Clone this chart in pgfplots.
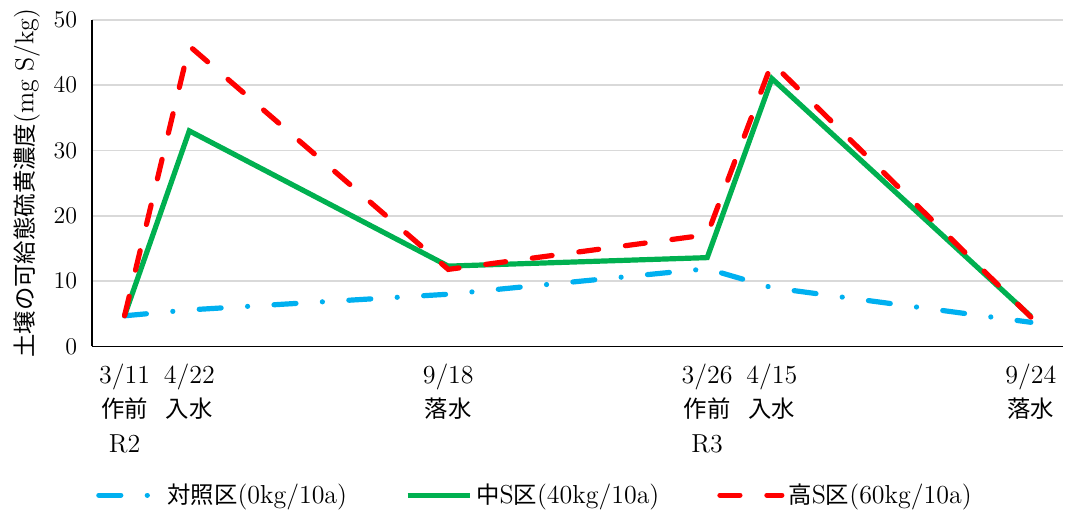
\documentclass[border=0pt]{standalone}
\usepackage{fontspec}
\usepackage{pgfplots}
\pgfplotsset{compat=1.18}
\newfontfamily\cjk[Scale=0.9]{Noto Sans CJK JP}
\definecolor{cblue}{HTML}{00B0F0}
\definecolor{cgreen}{HTML}{00B050}
\definecolor{cred}{HTML}{FF0000}
\pgfplotstableread{
x ctrl mid high
0 4.7 4.7 4.7
1 5.6 33.0 46.0
5 8.0 12.3 11.8
9 11.9 13.6 17.1
10 9.0 41.0 43.4
14 3.7 4.6 4.5
}\datatable
\begin{document}
\fontsize{13}{17.5}\selectfont
\begin{tikzpicture}
\begin{axis}[
  scale only axis,
  width=486pt, height=163.5pt,
  xmin=-0.5, xmax=14.5,
  ymin=0, ymax=50,
  ytick={0,10,...,50},
  xtick={0,1,5,9,10,14},
  xticklabels={{3/11\\{\cjk 作前}\\R2},{4/22\\{\cjk 入水}},{9/18\\{\cjk 落水}},{3/26\\{\cjk 作前}\\R3},{4/15\\{\cjk 入水}},{9/24\\{\cjk 落水}}},
  x tick label style={align=center, font=\fontsize{13}{17.5}\selectfont, yshift=-4pt},
  y tick label style={font=\fontsize{13}{15}\selectfont, xshift=-3pt},
  axis x line=bottom, axis y line=left,
  axis line style={black, line width=0.9pt, -},
  major tick length=0pt,
  ymajorgrids, major grid style={gray!30, line width=0.8pt},
  ylabel={{\cjk 土壌の可給態硫黄濃度}(mg S/kg)},
  ylabel style={font=\fontsize{13}{15}\selectfont, yshift=-2pt},
  legend columns=3,
  legend style={at={(0.457,-0.455)}, anchor=center, draw=none, font=\fontsize{13}{15}\selectfont,
    /tikz/every even column/.append style={column sep=27pt}},
  legend image code/.code={\draw[#1] (0pt,0pt) -- (31pt,0pt);},
  every axis plot/.append style={line width=2.6pt, line cap=round},
]
\addplot[cblue, dash pattern=on 11pt off 13.25pt on 0.01pt off 13.25pt] table[x=x,y=ctrl] {\datatable};
\addlegendentry{{\cjk 対照区}(0kg/10a)}
\addplot[cgreen, line cap=butt] table[x=x,y=mid] {\datatable};
\addlegendentry{{\cjk 中}S{\cjk 区}(40kg/10a)}
\addplot[cred, dash pattern=on 10pt off 13.5pt] table[x=x,y=high] {\datatable};
\addlegendentry{{\cjk 高}S{\cjk 区}(60kg/10a)}
\end{axis}
\path ([xshift=-2.5pt]current bounding box.west) -- (current bounding box.east);
\end{tikzpicture}
\end{document}
